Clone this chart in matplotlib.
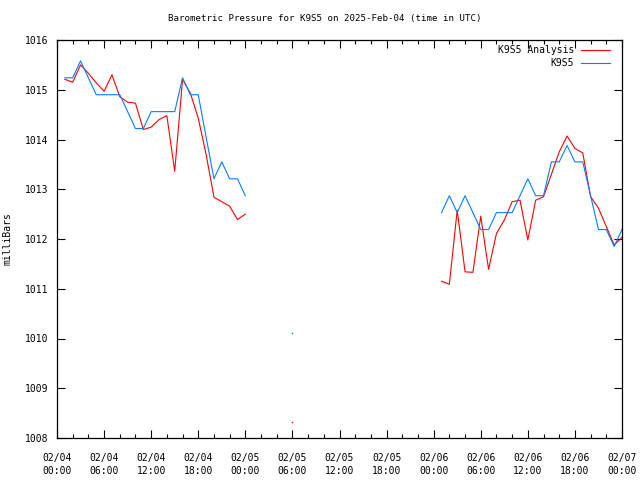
import numpy as np
import matplotlib
matplotlib.use("Agg")
import matplotlib.pyplot as plt
import matplotlib.dates as mdates
from matplotlib.lines import Line2D
from datetime import datetime, timedelta

nan = np.nan
start = datetime(2025, 2, 4, 0, 0)
hours = np.arange(0, 73)

# Analysis (red), hourly, hour 0..72
analysis = [nan,
    1015.21, 1015.15, 1015.50, 1015.33, 1015.14, 1014.97, 1015.30, 1014.86,
    1014.75, 1014.73, 1014.20, 1014.25, 1014.40, 1014.48, 1013.36, 1015.21,
    1014.93, 1014.43, 1013.70, 1012.84, 1012.75, 1012.66, 1012.39, 1012.50,
    nan, nan, nan, nan, nan, 1008.32, nan, nan,
    nan, nan, nan, nan, nan, nan, nan, nan,
    nan, nan, nan, nan, nan, nan, nan, nan,
    1011.15, 1011.09, 1012.58, 1011.34, 1011.33, 1012.46, 1011.39, 1012.11,
    1012.38, 1012.75, 1012.78, 1011.98, 1012.78, 1012.85, 1013.30, 1013.75,
    1014.07, 1013.82, 1013.73, 1012.85, 1012.62, 1012.25, 1011.88, 1012.03]

# Station observations (blue), hourly, hour 0..72
station = [nan,
    1015.24, 1015.24, 1015.58, 1015.24, 1014.90, 1014.90, 1014.90, 1014.90,
    1014.56, 1014.22, 1014.22, 1014.56, 1014.56, 1014.56, 1014.56, 1015.24,
    1014.90, 1014.90, 1014.05, 1013.21, 1013.55, 1013.21, 1013.21, 1012.87,
    nan, nan, nan, nan, nan, 1010.12, nan, nan,
    nan, nan, nan, nan, nan, nan, nan, nan,
    nan, nan, nan, nan, nan, nan, nan, nan,
    1012.53, 1012.87, 1012.53, 1012.87, 1012.53, 1012.19, 1012.19, 1012.53,
    1012.53, 1012.53, 1012.87, 1013.21, 1012.87, 1012.87, 1013.55, 1013.55,
    1013.88, 1013.55, 1013.55, 1012.87, 1012.19, 1012.19, 1011.85, 1012.19]

labels = ['K9S5 Analysis', 'K9S5']

times = [start + timedelta(hours=int(h)) for h in hours]
analysis = np.array(analysis)
station = np.array(station)

RED = '#ff0000'
BLUE = '#0080ff'
FONT = 'DejaVu Sans Mono'
FS = 7.0
plt.rcParams['font.family'] = FONT
plt.rcParams['font.size'] = FS

fig = plt.figure(figsize=(6.4, 4.8), dpi=100)
ax = fig.add_axes([57/640, 1-438/480, (622-57)/640, (438-40)/480])

series = [(analysis, RED), (station, BLUE)]
for (arr, c), lab in zip(series, labels):
    ax.plot(times, arr, color=c, lw=0.8, label=lab)
# isolated points (no neighbours) drawn as tiny dots
for arr, c in series:
    for i in range(len(arr)):
        prev_nan = i == 0 or np.isnan(arr[i-1])
        next_nan = i == len(arr)-1 or np.isnan(arr[i+1])
        if not np.isnan(arr[i]) and prev_nan and next_nan:
            ax.plot([times[i]], [arr[i]], 's', color=c, ms=1.0, mew=0)

ax.set_xlim(times[0], times[-1])
ax.set_ylim(1008, 1016)
ax.set_yticks(np.arange(1008, 1017, 1))
ax.xaxis.set_major_locator(mdates.HourLocator(byhour=range(0, 24, 6)))
ax.xaxis.set_minor_locator(mdates.HourLocator(byhour=range(0, 24, 2)))
ax.xaxis.set_major_formatter(mdates.DateFormatter('%m/%d\n%H:%M'))
ax.tick_params(axis='y', which='major', direction='in', length=6, width=0.8,
               right=True, labelsize=FS, pad=6)
ax.tick_params(axis='x', which='major', direction='in', length=6, width=0.8,
               top=True, labelsize=FS, pad=11)
ax.tick_params(axis='x', which='minor', direction='in', length=3, width=0.8,
               top=True, bottom=True)
for s in ax.spines.values():
    s.set_linewidth(0.9)
for t in ax.get_xticklabels():
    t.set_linespacing(1.4)

ax.set_ylabel('milliBars', fontsize=FS, labelpad=9)
fig.text(325/640, 1-19/480,
         'Barometric Pressure for K9S5 on 2025-Feb-04 (time in UTC)',
         fontsize=6.6, ha='center', va='center')

# gnuplot-style key: right-aligned labels followed by line samples
row_y = [0.975, 0.942]
for (arr, c), lab, yy in zip(series, labels, row_y):
    ax.text(0.915, yy, lab, transform=ax.transAxes, ha='right', va='center',
            fontsize=FS)
    ax.add_line(Line2D([0.927, 0.979], [yy, yy], transform=ax.transAxes,
                       color=c, lw=0.8))

fig.savefig('out.png', dpi=100)
